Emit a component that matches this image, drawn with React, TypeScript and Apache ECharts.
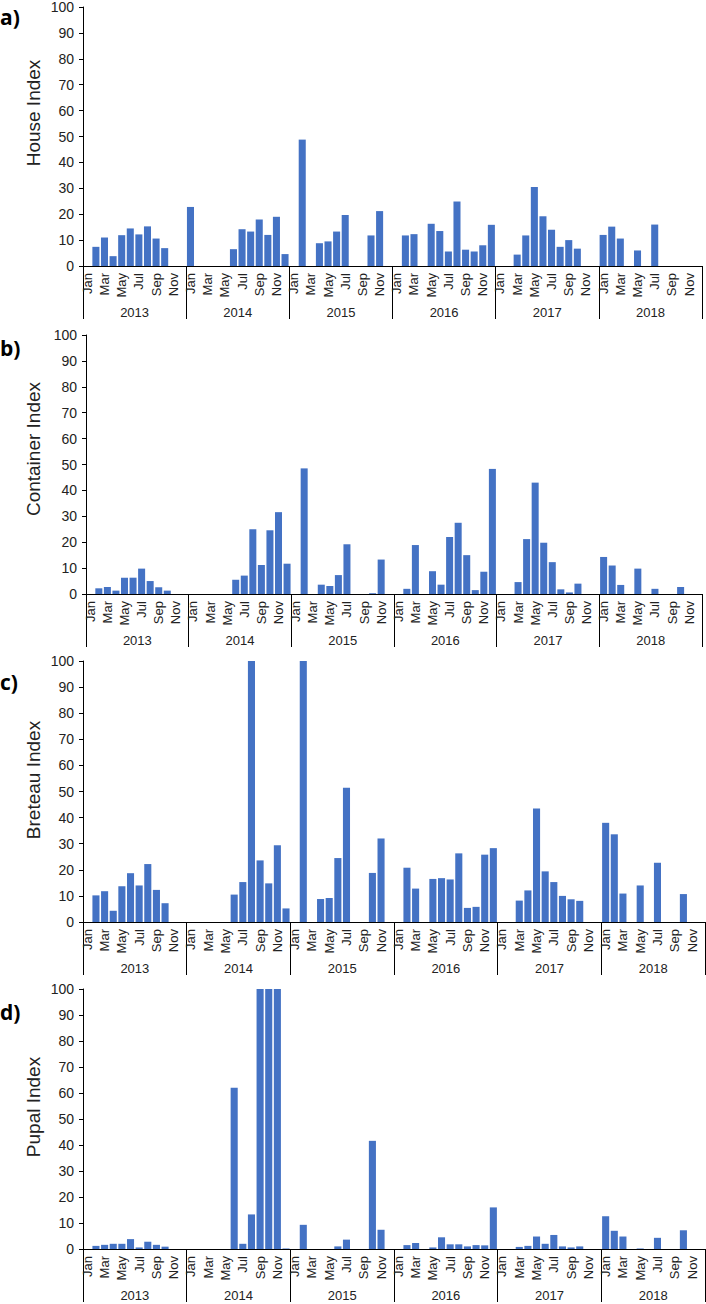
import React, { useEffect, useRef } from "react";
import * as echarts from "echarts";

const years = ["2013", "2014", "2015", "2016", "2017", "2018"];
const monthNames = ["Jan", "Feb", "Mar", "Apr", "May", "Jun", "Jul", "Aug", "Sep", "Oct", "Nov", "Dec"];
const yTicks = { min: 0, max: 100, interval: 10 };

// House Index (a), Jan 2013 .. Dec 2018
const houseIndex = [
  null, 7.4, 11.0, 3.8, 11.9, 14.5, 12.2, 15.3, 10.6, 6.9, null, null,
  22.8, null, null, null, null, 6.5, 14.2, 13.3, 18.0, 12.0, 19.0, 4.6,
  null, 48.8, null, 8.8, 9.5, 13.3, 19.7, null, null, 11.8, 21.2, null,
  null, 11.8, 12.3, null, 16.3, 13.5, 5.6, 24.9, 6.3, 5.6, 8.0, 15.9,
  null, null, 4.4, 11.8, 30.5, 19.2, 14.0, 7.4, 10.0, 6.7, null, null,
  12.0, 15.2, 10.6, null, 6.0, null, 16.0, null, null, null, null, null,
];

// Container Index (b)
const containerIndex = [
  null, 2.2, 2.7, 1.3, 6.3, 6.3, 9.8, 5.0, 2.6, 1.3, null, null,
  null, null, null, null, null, 5.5, 7.1, 25.0, 11.2, 24.6, 31.6, 11.7,
  null, 48.5, null, 3.6, 3.1, 7.3, 19.2, null, null, 0.3, 13.3, null,
  null, 2.0, 18.9, null, 8.8, 3.6, 22.0, 27.5, 15.0, 1.5, 8.6, 48.3,
  null, null, 4.6, 21.2, 43.0, 19.8, 12.3, 1.8, 0.6, 4.0, null, null,
  14.3, 11.0, 3.5, null, 9.8, null, 2.0, null, null, 2.7, null, null,
];

// Breteau Index (c)
const breteauIndex = [
  null, 10.2, 11.8, 4.3, 13.7, 18.7, 14.0, 22.2, 12.3, 7.2, null, null,
  null, null, null, null, null, 10.5, 15.3, 100, 23.6, 14.8, 29.4, 5.2,
  null, 100, null, 8.8, 9.2, 24.5, 51.4, null, null, 18.8, 32.0, null,
  null, 20.8, 12.8, null, 16.5, 16.8, 16.3, 26.3, 5.4, 5.8, 25.8, 28.3,
  null, null, 8.2, 12.1, 43.5, 19.4, 15.3, 10.0, 8.7, 8.1, null, null,
  38.0, 33.6, 10.9, null, 14.0, null, 22.7, null, null, 10.7, null, null,
];

// Pupal Index (d)
const pupalIndex = [
  null, 1.2, 1.6, 2.0, 2.0, 3.8, 0.6, 2.8, 1.6, 0.9, null, null,
  null, null, null, null, null, 62.0, 2.0, 13.3, 100, 100, 100, 0.2,
  null, 9.3, null, null, null, 1.0, 3.6, null, null, 41.6, 7.4, null,
  null, 1.5, 2.3, null, 0.6, 4.5, 1.8, 1.8, 1.0, 1.5, 1.4, 16.0,
  null, null, 0.8, 1.2, 4.8, 2.0, 5.4, 1.0, 0.6, 1.0, null, null,
  12.6, 7.0, 4.8, null, 0.2, null, 4.3, null, null, 7.2, null, null,
];

const panelLetters = ["a)", "b)", "c)", "d)"];
const axisTitles = ["House Index", "Container Index", "Breteau Index", "Pupal Index"];
const panelSeries = [houseIndex, containerIndex, breteauIndex, pupalIndex];

const FONT = "'Liberation Sans', Arial, sans-serif";
const TEXT = "#222";

const grids = [
  { left: 83, top: 6, width: 619, height: 260 },
  { left: 86, top: 335, width: 616, height: 259 },
  { left: 83, top: 661, width: 622, height: 261 },
  { left: 83, top: 989, width: 622, height: 260 },
];
const titleCenters = [113, 449, 780, 1107];
const letterTops = [17, 348, 682, 1012];

const monthKeys: string[] = [];
years.forEach((y) => monthNames.forEach((m) => monthKeys.push(y + "-" + m)));

function buildOption() {
  const xAxis: any[] = [];
  const yAxis: any[] = [];
  const series: any[] = [];
  const graphic: any[] = [];

  grids.forEach((g, i) => {
    xAxis.push({
      type: "category",
      gridIndex: i,
      position: "bottom",
      data: monthKeys,
      axisLine: { show: true, lineStyle: { color: "#000", width: 1 } },
      axisTick: { show: false },
      axisLabel: {
        interval: 1,
        rotate: 90,
        margin: 7,
        fontSize: 13,
        fontFamily: FONT,
        color: TEXT,
        formatter: (v: string) => v.split("-")[1],
      },
      splitLine: { show: false },
    });
    xAxis.push({
      type: "category",
      gridIndex: i,
      position: "bottom",
      data: years,
      axisLine: { show: false },
      axisTick: { show: true, interval: 0, length: 53, lineStyle: { color: "#000", width: 1 } },
      axisLabel: { interval: 0, margin: 40, fontSize: 13, fontFamily: FONT, color: TEXT },
      splitLine: { show: false },
    });
    yAxis.push({
      type: "value",
      gridIndex: i,
      min: yTicks.min,
      max: yTicks.max,
      interval: yTicks.interval,
      axisLine: { show: true, lineStyle: { color: "#000", width: 1 } },
      axisTick: { show: true, length: 4, lineStyle: { color: "#000" } },
      axisLabel: { fontSize: 14, fontFamily: FONT, color: TEXT, margin: 9 },
      splitLine: { show: false },
    });
    series.push({
      type: "bar",
      xAxisIndex: i * 2,
      yAxisIndex: i,
      data: panelSeries[i],
      barCategoryGap: "18%",
      itemStyle: { color: "#4472C4" },
      clip: true,
    });
    graphic.push({
      type: "text",
      x: 33,
      y: titleCenters[i],
      rotation: Math.PI / 2,
      style: {
        text: axisTitles[i],
        fontSize: 19,
        fontFamily: FONT,
        fill: TEXT,
        align: "center",
        verticalAlign: "middle",
      },
    });
    graphic.push({
      type: "text",
      x: 0,
      y: letterTops[i],
      style: {
        text: panelLetters[i],
        fontSize: 21,
        fontWeight: "bold",
        fontFamily: "'Open Sans', 'Liberation Sans', sans-serif",
        fill: "#000",
        align: "left",
        verticalAlign: "middle",
      },
    });
  });

  return {
    animation: false,
    backgroundColor: "#fff",
    grid: grids.map((g) => ({ ...g, containLabel: false })),
    xAxis,
    yAxis,
    series,
    graphic,
  };
}

export default function App() {
  const ref = useRef<HTMLDivElement>(null);
  useEffect(() => {
    document.body.style.margin = "0";
    const chart = echarts.init(ref.current as HTMLDivElement, null, {
      renderer: "svg",
      width: 706,
      height: 1304,
    });
    chart.setOption(buildOption() as any);
    return () => chart.dispose();
  }, []);
  return <div ref={ref} style={{ width: 706, height: 1304 }} />;
}
